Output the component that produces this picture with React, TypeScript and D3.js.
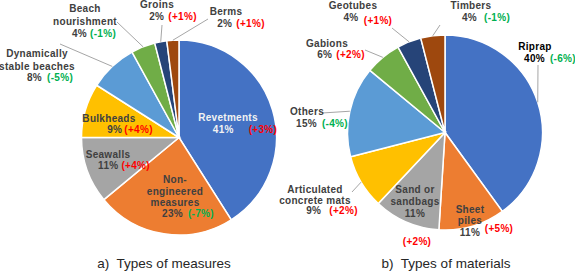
import React from 'react';
import * as d3 from 'd3';

// chart a) types of measures
const namesA = [['Revetments'], ['Non-', 'engineered', 'measures'], ['Seawalls'], ['Bulkheads'],
  ['Dynamically', 'stable beaches'], ['Beach', 'nourishment'], ['Groins'], ['Berms']];
const valuesA = [41, 23, 11, 9, 8, 4, 2, 2];
const changesA = [3, -7, 4, 4, -5, -1, 1, 1];

// chart b) types of materials
const namesB = [['Riprap'], ['Sheet', 'piles'], ['Sand or', 'sandbags'], ['Articulated', 'concrete mats'],
  ['Others'], ['Gabions'], ['Geotubes'], ['Timbers']];
const valuesB = [40, 11, 11, 9, 15, 6, 4, 4];
const changesB = [-6, 5, 2, 2, -4, 2, 1, -1];

const titles = ['a)  Types of measures', 'b)  Types of materials'];

const colors = ['#4472C4', '#ED7D31', '#A5A5A5', '#FFC000', '#5B9BD5', '#70AD47', '#264478', '#9E480E'];

// label layout (name lines at x/y, percent line at px/py, optional leader start lx/ly,
// optional detached change label at cx/cy)
const layoutA = [
  { x: 228, y: 121, lh: 12, px: 245, py: 133, gap: 15, fill: '#f2f2f2' },
  { x: 175, y: 183, lh: 11.5, px: 188, py: 217, gap: 5 },
  { x: 108, y: 158, lh: 12, px: 124, py: 169, gap: 3 },
  { x: 109, y: 122, lh: 12, px: 130, py: 133, gap: 2 },
  { x: 37, y: 57, lh: 12.5, px: 50, py: 81, gap: 5, lx: 60, ly: 44 },
  { x: 85, y: 12, lh: 12.5, px: 94, py: 37, gap: 3, lx: 117, ly: 22 },
  { x: 157, y: 8, lh: 12, px: 173, py: 20, gap: 4, lx: 162, ly: 25 },
  { x: 226, y: 15, lh: 12, px: 241, py: 27, gap: 4, lx: 208, ly: 19 },
];

const layoutB = [
  { x: 535, y: 50, lh: 12, px: 550, py: 62, gap: 5, fill: '#000', lx: 538, ly: 65 },
  { x: 470, y: 213, lh: 11, px: 470, py: 236, cx: 499, cy: 232 },
  { x: 415, y: 193, lh: 12, px: 415, py: 217, cx: 417, cy: 245 },
  { x: 315, y: 193, lh: 10.5, px: 332, py: 214, gap: 8, lx: 352, ly: 192 },
  { x: 307, y: 115, lh: 12, px: 322, py: 127, gap: 5, lx: 322, ly: 113 },
  { x: 327, y: 47, lh: 12, px: 341, py: 58, gap: 4, lx: 365, ly: 50 },
  { x: 353, y: 9, lh: 12, px: 351, py: 21, cx: 378, cy: 24, lx: 392, ly: 28 },
  { x: 471, y: 9, lh: 12, px: 486, py: 21, gap: 7, lx: 440, ly: 25 },
];

const centers = [{ x: 179, y: 137.5 }, { x: 445, y: 132.5 }];
const radius = 97.5;

const changeText = (c: number) => `(${c > 0 ? '+' : ''}${c}%)`;
const changeColor = (c: number) => (c > 0 ? '#FF0000' : '#00B050');

function Pie({ names, values, changes, layout, center, title }: any) {
  const pie = d3.pie<number>().sort(null).value((d) => d);
  const arcs = pie(values);
  const arc = d3.arc<d3.PieArcDatum<number>>().innerRadius(0).outerRadius(radius);
  const edge = d3.arc<d3.PieArcDatum<number>>().innerRadius(radius).outerRadius(radius);

  return (
    <g>
      <g transform={`translate(${center.x},${center.y})`}>
        {arcs.map((a, i) => (
          <path key={i} d={arc(a) as string} fill={colors[i]} stroke="#fff" strokeWidth={1.5} />
        ))}
      </g>
      {arcs.map((a, i) => {
        const l = layout[i];
        if (l.lx === undefined) return null;
        const [ex, ey] = edge.centroid(a);
        return (
          <line key={'l' + i} x1={l.lx} y1={l.ly} x2={center.x + ex} y2={center.y + ey}
            stroke="#a6a6a6" strokeWidth={1} />
        );
      })}
      {arcs.map((a, i) => {
        const l = layout[i];
        const fill = l.fill || '#404040';
        return (
          <g key={'t' + i} fontFamily="'Liberation Sans', Arial, sans-serif" fontSize={10}
            fontWeight="bold" textAnchor="middle" letterSpacing={0.3}>
            {names[i].map((s: string, j: number) => (
              <text key={j} x={l.x} y={l.y + j * l.lh} fill={fill}>{s}</text>
            ))}
            {l.cx === undefined ? (
              <text x={l.px} y={l.py} fill={fill}>
                <tspan>{values[i]}%</tspan>
                <tspan dx={l.gap} fill={changeColor(changes[i])}>{changeText(changes[i])}</tspan>
              </text>
            ) : (
              <>
                <text x={l.px} y={l.py} fill={fill}>{values[i]}%</text>
                <text x={l.cx} y={l.cy} fill={changeColor(changes[i])}>{changeText(changes[i])}</text>
              </>
            )}
          </g>
        );
      })}
      <text x={center.x - 15 + (title.startsWith('b') ? 16 : 0)} y={268} textAnchor="middle"
        fontFamily="'Liberation Sans', Arial, sans-serif" fontSize={13.5} fill="#262626"
        style={{ whiteSpace: 'pre' }}>
        {title}
      </text>
    </g>
  );
}

export default function App() {
  return (
    <svg width={575} height={274} style={{ position: 'absolute', left: 0, top: 0, background: '#fff' }}>
      <Pie names={namesA} values={valuesA} changes={changesA} layout={layoutA} center={centers[0]} title={titles[0]} />
      <Pie names={namesB} values={valuesB} changes={changesB} layout={layoutB} center={centers[1]} title={titles[1]} />
    </svg>
  );
}
